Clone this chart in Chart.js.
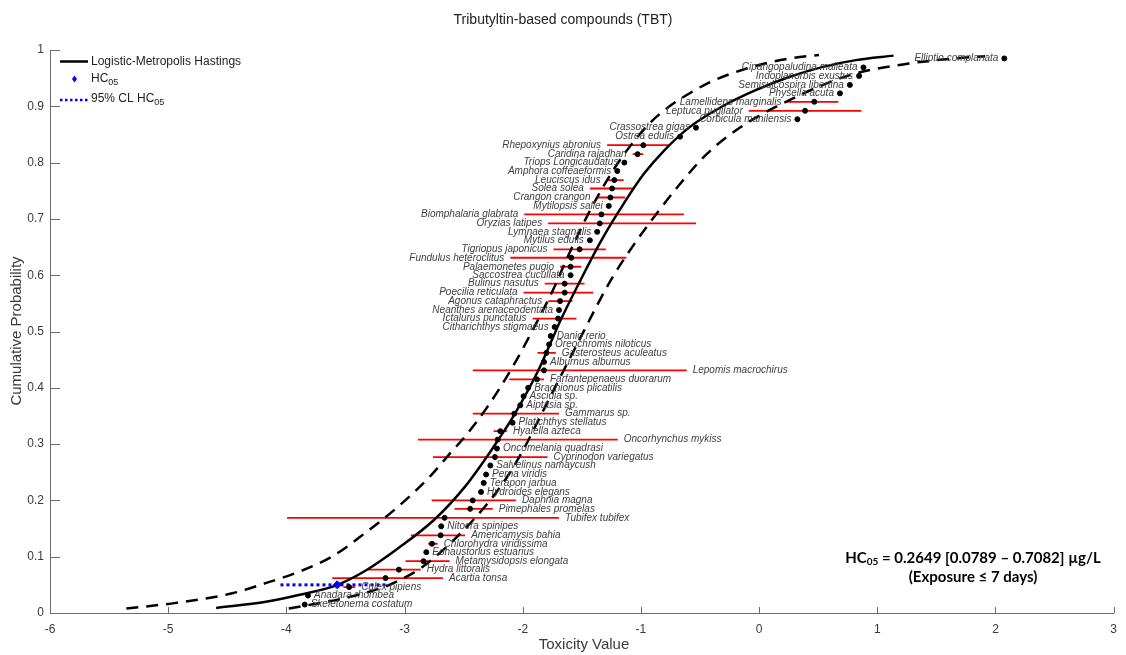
<!DOCTYPE html>
<html lang="en">
<head>
<meta charset="UTF-8">
<title>Tributyltin-based compounds (TBT)</title>
<script src="https://cdn.jsdelivr.net/npm/chart.js"></script>
<style>
  body { margin: 0; background: #fff; }
</style>
</head>
<body>
<canvas id="ssdChart" width="1126" height="655"></canvas>
<script>
// species ranked from most to least sensitive
const species = [
  'Skeletonema costatum', 'Anadara rhombea', 'Culex pipiens', 'Acartia tonsa', 'Hydra littoralis',
  'Metamysidopsis elongata', 'Eohaustorius estuarius', 'Chlorohydra viridissima', 'Americamysis bahia', 'Nitocra spinipes',
  'Tubifex tubifex', 'Pimephales promelas', 'Daphnia magna', 'Hydroides elegans', 'Terapon jarbua',
  'Perna viridis', 'Salvelinus namaycush', 'Cyprinodon variegatus', 'Oncomelania quadrasi', 'Oncorhynchus mykiss',
  'Hyalella azteca', 'Platichthys stellatus', 'Gammarus sp.', 'Aiptasia sp.', 'Ascidia sp.',
  'Brachionus plicatilis', 'Farfantepenaeus duorarum', 'Lepomis macrochirus', 'Alburnus alburnus', 'Gasterosteus aculeatus',
  'Oreochromis niloticus', 'Danio rerio', 'Citharichthys stigmaeus', 'Ictalurus punctatus', 'Neanthes arenaceodentata',
  'Agonus cataphractus', 'Poecilia reticulata', 'Bulinus nasutus', 'Saccostrea cucullata', 'Palaemonetes pugio',
  'Fundulus heteroclitus', 'Tigriopus japonicus', 'Mytilus edulis', 'Lymnaea stagnalis', 'Oryzias latipes',
  'Biomphalaria glabrata', 'Mytilopsis sallei', 'Crangon crangon', 'Solea solea', 'Leuciscus idus',
  'Amphora coffeaeformis', 'Triops Longicaudatus', 'Caridina rajadhari', 'Rhepoxynius abronius', 'Ostrea edulis',
  'Crassostrea gigas', 'Corbicula manilensis', 'Leptuca pugilator', 'Lamellidens marginalis', 'Physella acuta',
  'Semisulcospira libertina', 'Indoplanorbis exustus', 'Cipangopaludina malleata', 'Elliptio complanata'
];
const toxicity = [
  -3.845, -3.817, -3.469, -3.161, -3.048, -2.840, -2.816, -2.768, -2.695, -2.690,
  -2.661, -2.445, -2.423, -2.353, -2.330, -2.310, -2.274, -2.235, -2.218, -2.212,
  -2.190, -2.086, -2.072, -2.021, -1.993, -1.954, -1.880, -1.820, -1.820, -1.800,
  -1.777, -1.763, -1.730, -1.701, -1.693, -1.684, -1.645, -1.645, -1.595, -1.595,
  -1.589, -1.519, -1.432, -1.370, -1.348, -1.334, -1.272, -1.258, -1.244, -1.225,
  -1.200, -1.140, -1.028, -0.980, -0.669, -0.534, 0.324, 0.389, 0.467, 0.684,
  0.768, 0.846, 0.883, 2.075
];
const probability = [
  0.015, 0.031, 0.046, 0.062, 0.077, 0.092, 0.108, 0.123, 0.138, 0.154,
  0.169, 0.185, 0.200, 0.215, 0.231, 0.246, 0.262, 0.277, 0.292, 0.308,
  0.323, 0.338, 0.354, 0.369, 0.385, 0.400, 0.415, 0.431, 0.446, 0.462,
  0.477, 0.492, 0.508, 0.523, 0.538, 0.554, 0.569, 0.585, 0.600, 0.615,
  0.631, 0.646, 0.662, 0.677, 0.692, 0.708, 0.723, 0.738, 0.754, 0.769,
  0.785, 0.800, 0.815, 0.831, 0.846, 0.862, 0.877, 0.892, 0.908, 0.923,
  0.938, 0.954, 0.969, 0.985
];
// range of toxicity values per species (null = single value)
const rangeLow = [
  null, null, -3.517, -3.612, -3.306, -2.992, null, -2.800, -2.947, null,
  -3.994, -2.577, -2.771, null, null, null, null, -2.760, null, -2.886,
  -2.246, null, -2.423, null, null, null, -2.114, -2.423, null, -1.875,
  null, null, null, -1.917, null, -1.785, -1.993, -1.814, null, -1.684,
  -2.105, -1.740, null, null, -1.785, -1.987, null, -1.376, -1.432, -1.290,
  null, null, -1.070, -1.286, null, null, null, -0.088, 0.240, null,
  null, null, null, null
];
const rangeHigh = [
  null, null, -3.418, -2.675, -2.863, -2.619, null, -2.720, -2.487, null,
  -1.693, -2.254, -2.058, null, null, null, null, -1.790, null, -1.196,
  -2.134, null, -1.693, null, null, null, -1.820, -0.613, null, -1.720,
  null, null, null, -1.545, null, -1.580, -1.404, -1.477, null, -1.505,
  -1.124, -1.297, null, null, -0.534, -0.636, null, -1.132, -1.056, -1.146,
  null, null, -0.980, -0.753, null, null, null, 0.866, 0.670, null,
  null, null, null, null
];

// fitted curve and its 95% band
const fitX = [-4.594, -4.173, -3.896, -3.567, -3.332, -3.054, -2.742, -2.490, -2.322, -2.212, -2.072, -1.875, -1.749, -1.682, -1.514, -1.337, -1.143, -0.975, -0.806, -0.588, -0.301, -0.024, 0.254, 0.540, 0.818, 1.138];
const fitY = [0.009, 0.020, 0.032, 0.050, 0.075, 0.115, 0.167, 0.224, 0.272, 0.306, 0.352, 0.428, 0.487, 0.519, 0.590, 0.661, 0.728, 0.780, 0.821, 0.863, 0.901, 0.929, 0.952, 0.970, 0.982, 0.990];
const upperX = [-5.354, -4.933, -4.457, -4.176, -3.896, -3.615, -3.334, -3.054, -2.774, -2.605, -2.490, -2.296, -2.086, -1.875, -1.732, -1.623, -1.455, -1.286, -1.118, -0.916, -0.764, -0.613, -0.444, -0.251, -0.024, 0.254, 0.507];
const upperY = [0.008, 0.018, 0.035, 0.053, 0.073, 0.100, 0.142, 0.189, 0.245, 0.286, 0.313, 0.367, 0.437, 0.519, 0.579, 0.631, 0.705, 0.769, 0.822, 0.872, 0.899, 0.920, 0.940, 0.957, 0.972, 0.985, 0.991];
const lowerX = [-3.980, -3.786, -3.475, -3.150, -3.054, -2.860, -2.582, -2.296, -2.128, -1.987, -1.859, -1.707, -1.482, -1.370, -1.230, -1.034, -0.865, -0.697, -0.444, -0.164, 0.257, 0.762, 1.267, 1.660, 1.912];
const lowerY = [0.008, 0.015, 0.028, 0.048, 0.057, 0.080, 0.130, 0.195, 0.243, 0.293, 0.346, 0.409, 0.501, 0.547, 0.600, 0.662, 0.710, 0.755, 0.815, 0.862, 0.911, 0.955, 0.976, 0.985, 0.989];

const hc05 = -3.570;
const hc05Low = -4.05;
const hc05High = -3.15;
const hc05Prob = 0.05;

const xTicks = [-6, -5, -4, -3, -2, -1, 0, 1, 2, 3];
const yTicks = [0, 0.1, 0.2, 0.3, 0.4, 0.5, 0.6, 0.7, 0.8, 0.9, 1];

function pairs(xs, ys) {
  return xs.map((x, i) => ({ x: x, y: ys[i] }));
}

// error bars as one broken line
const barData = [];
species.forEach((s, i) => {
  if (rangeLow[i] !== null) {
    barData.push({ x: rangeLow[i], y: probability[i] });
    barData.push({ x: rangeHigh[i], y: probability[i] });
    barData.push({ x: rangeHigh[i], y: null });
  }
});

const axisColor = '#6b6b6b';
const textColor = '#3a3a3a';
const sansFont = '"Liberation Sans", Arial, Helvetica, sans-serif';

// draws inward tick marks, labels, legend and annotation
const decorPlugin = {
  id: 'decor',
  afterDatasetsDraw(chart) {
    const ctx = chart.ctx;
    const xs = chart.scales.x;
    const ys = chart.scales.y;
    const area = chart.chartArea;
    ctx.save();

    // species labels
    ctx.font = 'italic 10px ' + sansFont;
    ctx.fillStyle = '#404040';
    ctx.textBaseline = 'middle';
    species.forEach((name, i) => {
      const py = ys.getPixelForValue(probability[i]);
      if (i < 32) {
        const right = rangeHigh[i] !== null ? Math.max(rangeHigh[i], toxicity[i]) : toxicity[i];
        ctx.textAlign = 'left';
        ctx.fillText(name, xs.getPixelForValue(right) + 6, py);
      } else {
        const left = rangeLow[i] !== null ? Math.min(rangeLow[i], toxicity[i]) : toxicity[i];
        ctx.textAlign = 'right';
        ctx.fillText(name, xs.getPixelForValue(left) - 6, py);
      }
    });

    // tick marks pointing into the plot
    ctx.strokeStyle = axisColor;
    ctx.lineWidth = 1;
    ctx.beginPath();
    xTicks.forEach(v => {
      const px = Math.round(xs.getPixelForValue(v)) + 0.5;
      ctx.moveTo(px, area.bottom);
      ctx.lineTo(px, area.bottom - 6);
    });
    yTicks.forEach(v => {
      const py = Math.round(ys.getPixelForValue(v)) + 0.5;
      ctx.moveTo(area.left, py);
      ctx.lineTo(area.left + 10, py);
    });
    ctx.stroke();

    // legend
    ctx.textAlign = 'left';
    ctx.fillStyle = '#222';
    ctx.strokeStyle = '#000';
    ctx.lineWidth = 2.5;
    ctx.beginPath();
    ctx.moveTo(60, 61.5);
    ctx.lineTo(88, 61.5);
    ctx.stroke();
    ctx.font = '12px ' + sansFont;
    ctx.fillText('Logistic-Metropolis Hastings', 91, 62);

    ctx.fillStyle = '#0000ff';
    ctx.beginPath();
    ctx.moveTo(74.5, 75.5);
    ctx.lineTo(77, 79);
    ctx.lineTo(74.5, 82.5);
    ctx.lineTo(72, 79);
    ctx.closePath();
    ctx.fill();
    ctx.fillStyle = '#222';
    ctx.fillText('HC', 91, 78.5);
    let w = ctx.measureText('HC').width;
    ctx.font = '9px ' + sansFont;
    ctx.fillText('05', 91 + w, 83);

    ctx.strokeStyle = '#0000ff';
    ctx.lineWidth = 2.5;
    ctx.setLineDash([2.5, 2.5]);
    ctx.beginPath();
    ctx.moveTo(60, 100);
    ctx.lineTo(88, 100);
    ctx.stroke();
    ctx.setLineDash([]);
    ctx.font = '12px ' + sansFont;
    ctx.fillText('95% CL HC', 91, 98.5);
    w = ctx.measureText('95% CL HC').width;
    ctx.font = '9px ' + sansFont;
    ctx.fillText('05', 91 + w, 103);

    // HC05 annotation
    ctx.fillStyle = '#000';
    const boldFont = 'bold 15px Lato, "Liberation Sans", sans-serif';
    const subFont = 'bold 10px Lato, "Liberation Sans", sans-serif';
    const rest = ' = 0.2649 [0.0789 \u2013 0.7082] \u00b5g/L';
    ctx.font = boldFont;
    const wHC = ctx.measureText('HC').width;
    const wRest = ctx.measureText(rest).width;
    ctx.font = subFont;
    const wSub = ctx.measureText('05').width;
    let x0 = 973 - (wHC + wSub + wRest) / 2;
    ctx.font = boldFont;
    ctx.fillText('HC', x0, 558);
    ctx.font = subFont;
    ctx.fillText('05', x0 + wHC, 562);
    ctx.font = boldFont;
    ctx.fillText(rest, x0 + wHC + wSub, 558);
    ctx.textAlign = 'center';
    ctx.fillText('(Exposure \u2264 7 days)', 973, 577);

    // titles
    ctx.fillStyle = '#222';
    ctx.font = '14px ' + sansFont;
    ctx.fillText('Tributyltin-based compounds (TBT)', 563, 20);
    ctx.fillStyle = textColor;
    ctx.font = '15px ' + sansFont;
    ctx.fillText('Toxicity Value', 584, 645);
    ctx.translate(17, 331);
    ctx.rotate(-Math.PI / 2);
    ctx.fillText('Cumulative Probability', 0, 0);
    ctx.restore();
  }
};

new Chart(document.getElementById('ssdChart'), {
  type: 'scatter',
  data: {
    datasets: [
      {
        label: 'Species',
        data: pairs(toxicity, probability),
        backgroundColor: '#000',
        borderColor: '#000',
        pointRadius: 2.5,
        pointHoverRadius: 2.5,
        order: 0
      },
      {
        label: 'HC05',
        data: [{ x: hc05, y: hc05Prob }],
        pointStyle: 'rectRot',
        pointRadius: 4,
        backgroundColor: '#0000ff',
        borderColor: '#0000ff',
        order: 1
      },
      {
        label: '95% CL HC05',
        data: [{ x: hc05Low, y: hc05Prob }, { x: hc05High, y: hc05Prob }],
        showLine: true,
        borderColor: '#0000ff',
        borderWidth: 3,
        borderDash: [3, 3],
        pointRadius: 0,
        order: 2
      },
      {
        label: 'Logistic-Metropolis Hastings',
        data: pairs(fitX, fitY),
        showLine: true,
        borderColor: '#000',
        borderWidth: 2.5,
        cubicInterpolationMode: 'monotone',
        pointRadius: 0,
        order: 3
      },
      {
        label: 'Upper 95%',
        data: pairs(upperX, upperY),
        showLine: true,
        borderColor: '#000',
        borderWidth: 2.5,
        borderDash: [12, 8],
        cubicInterpolationMode: 'monotone',
        pointRadius: 0,
        order: 4
      },
      {
        label: 'Lower 95%',
        data: pairs(lowerX, lowerY),
        showLine: true,
        borderColor: '#000',
        borderWidth: 2.5,
        borderDash: [12, 8],
        cubicInterpolationMode: 'monotone',
        pointRadius: 0,
        order: 5
      },
      {
        label: 'Range',
        data: barData,
        showLine: true,
        spanGaps: false,
        borderColor: '#ff0000',
        borderWidth: 1.8,
        pointRadius: 0,
        order: 6
      }
    ]
  },
  options: {
    responsive: false,
    animation: false,
    events: [],
    layout: { padding: { top: 50, right: 7, left: 0, bottom: 0 } },
    plugins: {
      legend: { display: false },
      tooltip: { enabled: false }
    },
    scales: {
      x: {
        type: 'linear',
        min: -6,
        max: 3,
        afterBuildTicks: scale => { scale.ticks = xTicks.map(v => ({ value: v })); },
        afterFit: scale => { scale.height = 42; },
        grid: { display: false, drawTicks: false },
        border: { display: true, color: axisColor, width: 1 },
        ticks: { color: textColor, font: { size: 12, family: sansFont }, padding: 9, maxRotation: 0 }
      },
      y: {
        type: 'linear',
        min: 0,
        max: 1,
        afterBuildTicks: scale => { scale.ticks = yTicks.map(v => ({ value: v })); },
        afterFit: scale => { scale.width = 50; },
        grid: { display: false, drawTicks: false },
        border: { display: true, color: axisColor, width: 1 },
        ticks: {
          color: textColor,
          font: { size: 12, family: sansFont },
          padding: 6,
          callback: v => String(Math.round(v * 10) / 10)
        }
      }
    }
  },
  plugins: [decorPlugin]
});
</script>
</body>
</html>
